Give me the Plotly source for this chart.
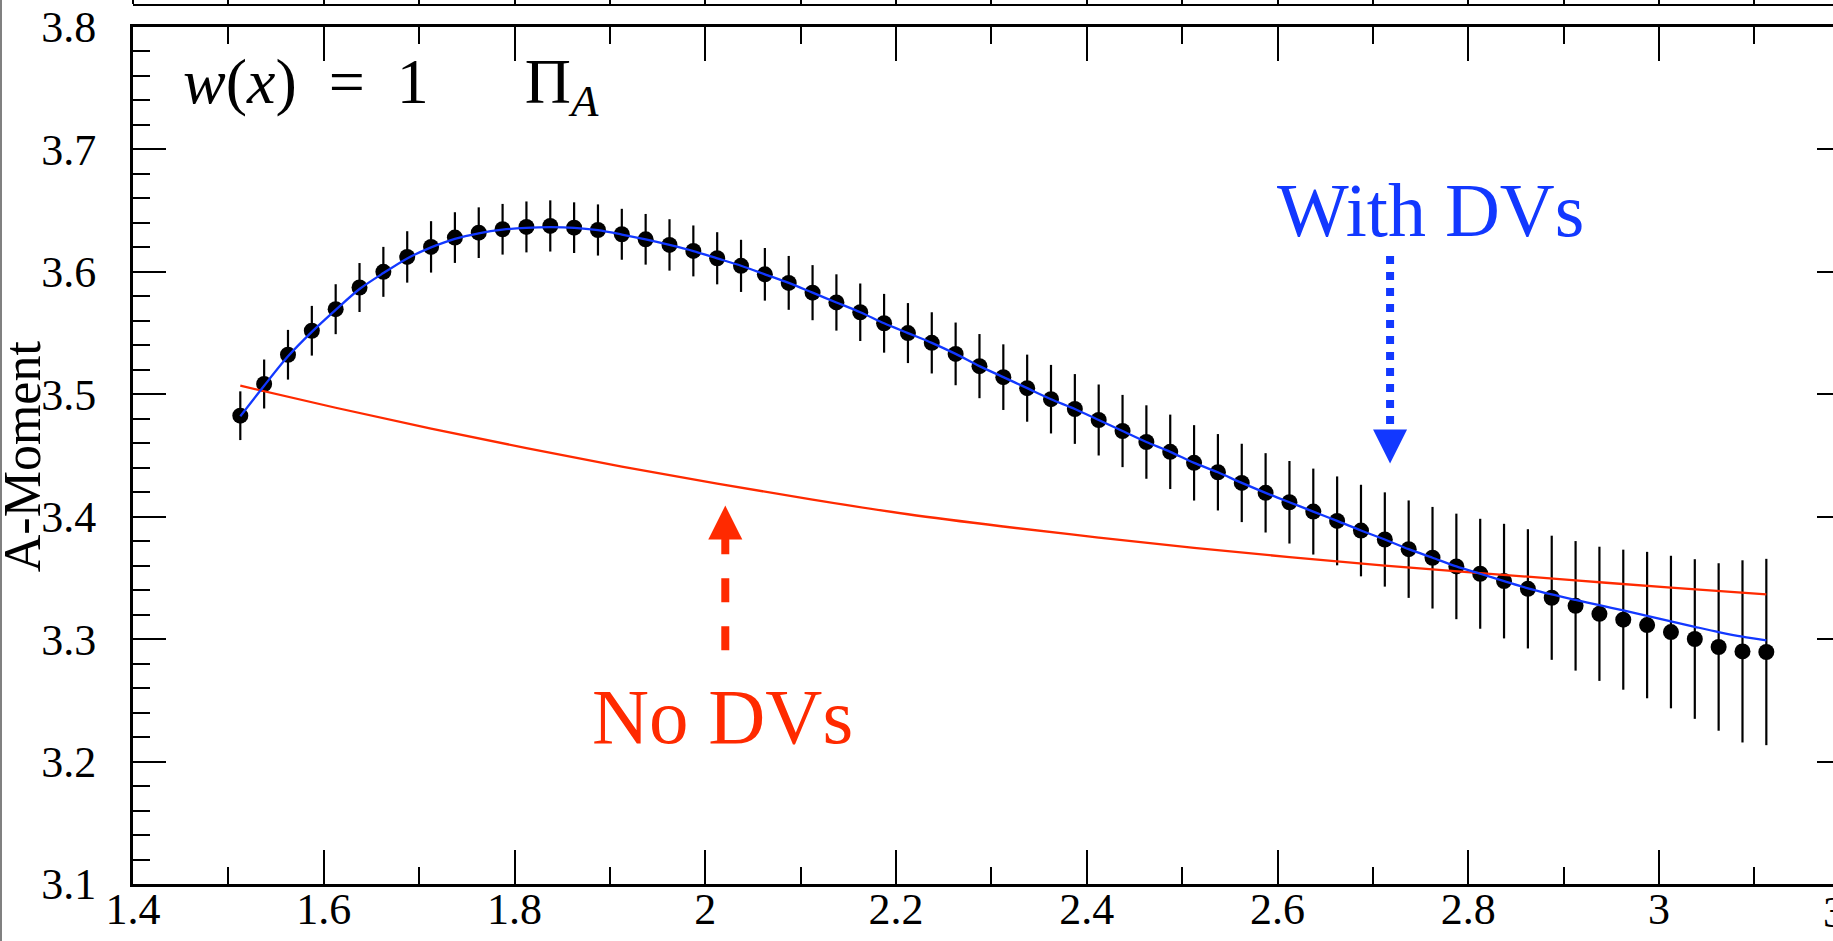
import plotly.graph_objects as go

# ---------------- data ----------------
s0 = [1.5125, 1.5375, 1.5625, 1.5875, 1.6125, 1.6375, 1.6625, 1.6875, 1.7125, 1.7375,
      1.7625, 1.7875, 1.8125, 1.8375, 1.8625, 1.8875, 1.9125, 1.9375, 1.9625, 1.9875,
      2.0125, 2.0375, 2.0625, 2.0875, 2.1125, 2.1375, 2.1625, 2.1875, 2.2125, 2.2375,
      2.2625, 2.2875, 2.3125, 2.3375, 2.3625, 2.3875, 2.4125, 2.4375, 2.4625, 2.4875,
      2.5125, 2.5375, 2.5625, 2.5875, 2.6125, 2.6375, 2.6625, 2.6875, 2.7125, 2.7375,
      2.7625, 2.7875, 2.8125, 2.8375, 2.8625, 2.8875, 2.9125, 2.9375, 2.9625, 2.9875,
      3.0125, 3.0375, 3.0625, 3.0875, 3.1125]

moment = [3.4825, 3.5084, 3.5323, 3.5519, 3.5695, 3.5872, 3.6000, 3.6122, 3.6204, 3.6280,
          3.6320, 3.6348, 3.6367, 3.6375, 3.6361, 3.6342, 3.6307, 3.6266, 3.6220, 3.6171,
          3.6111, 3.6049, 3.5980, 3.5910, 3.5830, 3.5750, 3.5670, 3.5580, 3.5500, 3.5420,
          3.5330, 3.5230, 3.5140, 3.5050, 3.4960, 3.4880, 3.4790, 3.4700, 3.4610, 3.4530,
          3.4440, 3.4363, 3.4276, 3.4195, 3.4118, 3.4042, 3.3966, 3.3887, 3.3814, 3.3735,
          3.3665, 3.3594, 3.3534, 3.3474, 3.3411, 3.3338, 3.3272, 3.3207, 3.3159, 3.3115,
          3.3058, 3.3001, 3.2936, 3.2900, 3.2895]

moment_err = [0.0199, 0.0200, 0.0203, 0.0203, 0.0204, 0.0200, 0.0204, 0.0210, 0.0210, 0.0207,
              0.0207, 0.0207, 0.0208, 0.0209, 0.0207, 0.0209, 0.0208, 0.0207, 0.0210, 0.0208,
              0.0213, 0.0213, 0.0215, 0.0220, 0.0225, 0.0230, 0.0235, 0.0240, 0.0245, 0.0250,
              0.0256, 0.0262, 0.0268, 0.0274, 0.0280, 0.0285, 0.0290, 0.0295, 0.0300, 0.0304,
              0.0308, 0.0312, 0.0320, 0.0324, 0.0337, 0.0351, 0.0363, 0.0374, 0.0385, 0.0398,
              0.0415, 0.0431, 0.0449, 0.0468, 0.0487, 0.0507, 0.0529, 0.0548, 0.0572, 0.0598,
              0.0623, 0.0652, 0.0684, 0.0744, 0.0761]

fit_with_dvs = [3.4820, 3.5070, 3.5310, 3.5510, 3.5690, 3.5860, 3.5990, 3.6110, 3.6200, 3.6270,
                3.6315, 3.6345, 3.6360, 3.6365, 3.6360, 3.6340, 3.6305, 3.6265, 3.6220, 3.6170,
                3.6110, 3.6050, 3.5980, 3.5910, 3.5830, 3.5750, 3.5670, 3.5580, 3.5500, 3.5420,
                3.5330, 3.5230, 3.5140, 3.5050, 3.4960, 3.4880, 3.4790, 3.4700, 3.4610, 3.4530,
                3.4440, 3.4363, 3.4276, 3.4195, 3.4118, 3.4042, 3.3966, 3.3887, 3.3814, 3.3735,
                3.3665, 3.3594, 3.3534, 3.3474, 3.3415, 3.3365, 3.3320, 3.3277, 3.3234, 3.3190,
                3.3145, 3.3101, 3.3058, 3.3020, 3.2990]

s0_nodv = [1.5125, 1.6125, 1.7125, 1.8125, 1.9125, 2.0125, 2.1125, 2.2125, 2.3125,
           2.4125, 2.5125, 2.6125, 2.7125, 2.8125, 2.9125, 3.0125, 3.1125]
fit_no_dvs = [3.507, 3.489, 3.472, 3.456, 3.441, 3.427, 3.414, 3.402, 3.392,
              3.383, 3.3745, 3.367, 3.360, 3.354, 3.348, 3.342, 3.3365]

x_ticks = [1.4, 1.6, 1.8, 2.0, 2.2, 2.4, 2.6, 2.8, 3.0]
x_ticktext = ["1.4", "1.6", "1.8", "2", "2.2", "2.4", "2.6", "2.8", "3"]
x_cut_label = "3.2"   # next tick label, mostly beyond the right edge
y_ticks = [3.1, 3.2, 3.3, 3.4, 3.5, 3.6, 3.7, 3.8]

# annotation arrows (x position, tail y, head base y, tip y)
with_arrow = dict(x=2.718, tail=3.613, base=3.4703, tip=3.4434)
no_arrow = dict(x=2.021, tail=3.2909, base=3.383, tip=3.4091)

BLUE = "#1238ff"
RED = "#ff2a00"
FONT = "'Liberation Serif', Tinos, 'Times New Roman', Times, 'DejaVu Serif', serif"

X_RANGE = [1.4, 3.1824]
Y_RANGE = [3.1, 3.8]

fig = go.Figure()

fig.add_trace(go.Scatter(
    x=s0, y=moment, mode="markers",
    marker=dict(color="black", size=16, line=dict(width=0)),
    error_y=dict(type="data", array=moment_err, visible=True, color="black",
                 thickness=2.2, width=0),
    hoverinfo="skip"))

fig.add_trace(go.Scatter(
    x=s0_nodv, y=fit_no_dvs, mode="lines",
    line=dict(color=RED, width=2.3, shape="spline", smoothing=1.0)))

fig.add_trace(go.Scatter(
    x=s0, y=fit_with_dvs, mode="lines",
    line=dict(color=BLUE, width=2.3, shape="spline", smoothing=0.8)))

# arrows
fig.add_trace(go.Scatter(
    x=[with_arrow["x"], with_arrow["x"]], y=[with_arrow["tail"], with_arrow["base"]],
    mode="lines", line=dict(color=BLUE, width=8, dash="dot")))
fig.add_trace(go.Scatter(
    x=[with_arrow["x"]], y=[with_arrow["tip"]], mode="markers",
    marker=dict(symbol="arrow-down", size=34, color=BLUE, line=dict(width=0))))
fig.add_trace(go.Scatter(
    x=[no_arrow["x"], no_arrow["x"]], y=[no_arrow["tail"], no_arrow["base"]],
    mode="lines", line=dict(color=RED, width=8, dash="dash")))
fig.add_trace(go.Scatter(
    x=[no_arrow["x"]], y=[no_arrow["tip"]], mode="markers",
    marker=dict(symbol="arrow-up", size=34, color=RED, line=dict(width=0))))

# dummy traces to activate helper axes
fig.add_trace(go.Scatter(x=[None], y=[None], yaxis="y2", hoverinfo="skip"))
fig.add_trace(go.Scatter(x=[None], y=[None], xaxis="x2", hoverinfo="skip"))

tickfont = dict(family=FONT, size=44, color="black")

fig.update_layout(
    width=1833, height=941,
    margin=dict(l=133, r=0, t=5, b=57, pad=0),
    paper_bgcolor="white", plot_bgcolor="white",
    showlegend=False,
    font=dict(family=FONT, color="black"),
    xaxis=dict(range=X_RANGE, tickvals=x_ticks, ticktext=x_ticktext,
               ticks="inside", ticklen=34, tickwidth=2, tickcolor="black",
               minor=dict(dtick=0.1, tick0=1.4, ticks="inside", ticklen=17, tickwidth=2, tickcolor="black"),
               showline=True, linewidth=3, linecolor="black", mirror="ticks",
               showgrid=False, zeroline=False, tickfont=tickfont, automargin=False,
               ticklabelstandoff=-16),
    yaxis=dict(range=Y_RANGE, domain=[0, 0.97497], tickvals=y_ticks,
               ticks="inside", ticklen=33, tickwidth=2, tickcolor="black",
               minor=dict(dtick=0.02, tick0=3.1, ticks="inside", ticklen=17, tickwidth=2, tickcolor="black"),
               showline=True, linewidth=3, linecolor="black", mirror=False,
               showgrid=False, zeroline=False, tickfont=tickfont, automargin=False,
               ticklabelstandoff=25),
    yaxis2=dict(range=Y_RANGE, overlaying="y", side="right", anchor="x",
                tickvals=y_ticks, ticks="inside", ticklen=16, tickwidth=2, tickcolor="black",
                showline=False, showticklabels=False, showgrid=False, zeroline=False,
                automargin=False),
    xaxis2=dict(range=X_RANGE, overlaying="x", anchor="free", position=1, side="top",
                dtick=0.1, tick0=1.4, ticks="outside", ticklen=8, tickwidth=2, tickcolor="black",
                showline=True, linewidth=2, linecolor="black", showticklabels=False,
                showgrid=False, zeroline=False, automargin=False),
)

# texts
fig.add_annotation(x=1.45, y=3.7517, xref="x", yref="y", xanchor="left", yanchor="middle",
                   text="<i>w</i>(<i>x</i>)\u00a0\u00a0=\u00a0\u00a01\u00a0\u00a0\u00a0\u00a0\u00a0\u00a0Π<sub><i>A</i></sub>",
                   showarrow=False, font=dict(family=FONT, size=64, color="black"))
fig.add_annotation(x=2.7603, y=3.6506, xref="x", yref="y", xanchor="center", yanchor="middle",
                   text="With DVs", showarrow=False, font=dict(family=FONT, size=76, color=BLUE))
fig.add_annotation(x=2.0183, y=3.2365, xref="x", yref="y", xanchor="center", yanchor="middle",
                   text="No DVs", showarrow=False, font=dict(family=FONT, size=79, color=RED))
fig.add_annotation(x=-0.0650, y=3.449, xref="paper", yref="y", xanchor="center", yanchor="middle",
                   text="A-Moment", textangle=-90, showarrow=False,
                   font=dict(family=FONT, size=52, color="black"))
fig.add_annotation(x=(1850 - 133) / 1700, y=-28.0 / 879, xref="paper", yref="paper",
                   xanchor="center", yanchor="middle", text=x_cut_label, showarrow=False,
                   font=tickfont)

# left image border line
fig.add_shape(type="line", xref="paper", yref="paper",
              x0=-132.0 / 1700, x1=-132.0 / 1700, y0=-57.0 / 879, y1=1 + 5.0 / 879,
              line=dict(color="#808080", width=2))

fig.write_html("out.html", config={"displayModeBar": False},
               post_script="document.body.style.margin='0px';document.body.style.overflow='hidden';")
